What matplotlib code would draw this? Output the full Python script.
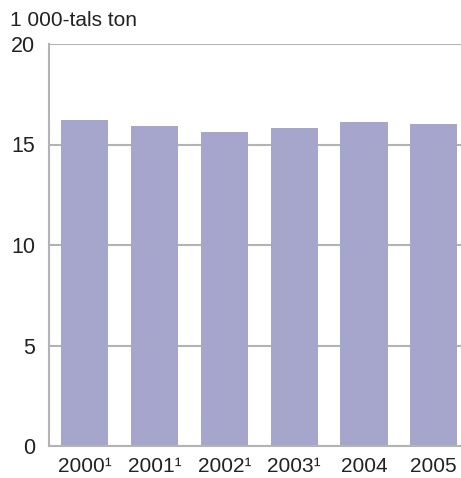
import numpy as np
import matplotlib.pyplot as plt

plt.rcParams['font.family'] = ['Liberation Sans', 'DejaVu Sans']

years = ['2000¹', '2001¹', '2002¹', '2003¹', '2004', '2005']
values = [16.2, 15.9, 15.6, 15.8, 16.1, 16.0]

fig = plt.figure(figsize=(4.61, 4.78), dpi=100)
W, H = 461, 478
left, right, top, bottom = 49, 468, 44, 446
ax = fig.add_axes([left / W, 1 - bottom / H, (right - left) / W, (bottom - top) / H])

x = np.arange(len(years))
ax.bar(x, values, width=0.675, color='#a6a6cc', zorder=2)

ax.set_ylim(0, 20)
ax.set_xlim(-0.51, 5.49)
ax.set_yticks([0, 5, 10, 15, 20])
ax.set_xticks(x)
ax.set_xticklabels(years)
ax.yaxis.grid(True, color='#b3b3b3', linewidth=1.5, zorder=0)
ax.tick_params(length=0, labelsize=15, colors='#222222')
ax.tick_params(axis='y', pad=10, labelsize=15.5)
ax.tick_params(axis='x', pad=8)

for s in ['top', 'right']:
    ax.spines[s].set_visible(False)
for s in ['left', 'bottom']:
    ax.spines[s].set_color('#b3b3b3')
    ax.spines[s].set_linewidth(1.5)

fig.text(10 / W, 1 - 20 / H, '1 000-tals ton', fontsize=15, va='center', ha='left', color='#222222')

fig.savefig('out.png', dpi=100)
